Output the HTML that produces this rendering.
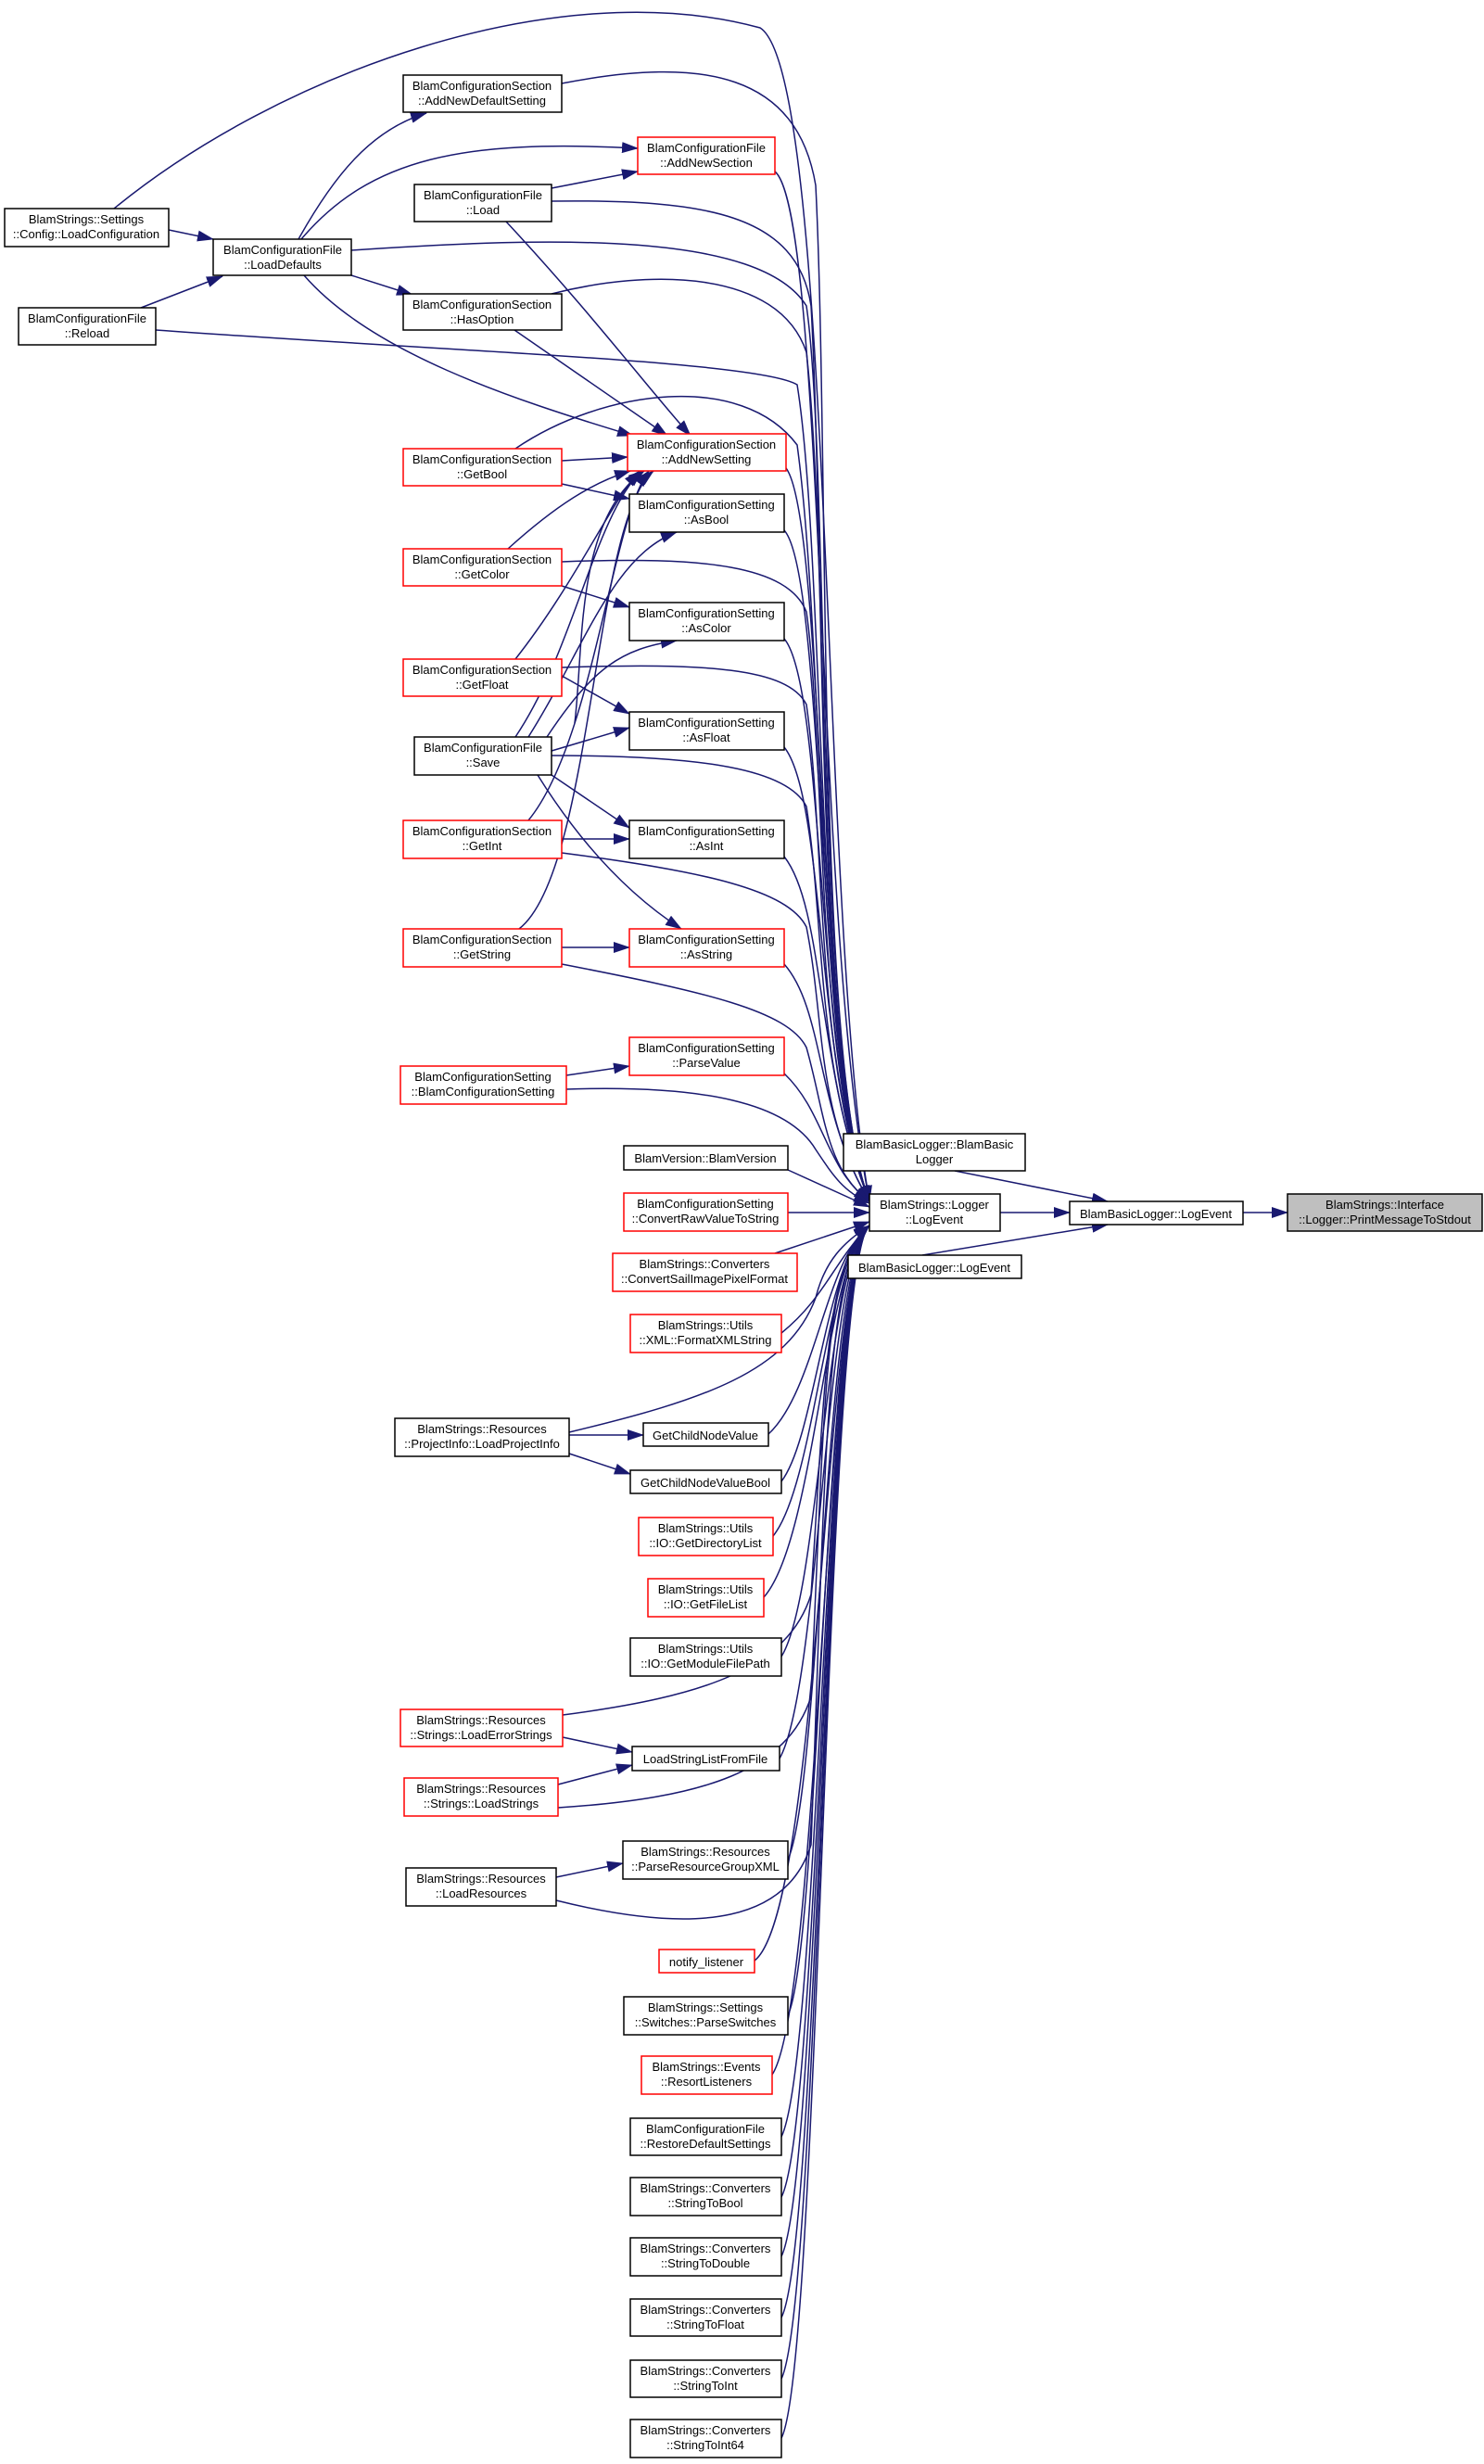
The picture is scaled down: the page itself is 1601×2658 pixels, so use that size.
<!DOCTYPE html>
<html><head><meta charset="utf-8"><style>
html,body{margin:0;padding:0;background:#fff;}
svg{display:block;}
text{font-family:"Liberation Sans",Arial,sans-serif;font-size:13px;fill:#000;}
.n{fill:#fff;stroke:#000;stroke-width:1.5;}
.r{fill:#fff;stroke:#ff0000;stroke-width:1.5;}
.g{fill:#bfbfbf;stroke:#000;stroke-width:1.5;}
.e{fill:none;stroke:#191970;stroke-width:1.5;marker-end:url(#a);}
</style></head><body>
<svg width="1601" height="2658" viewBox="0 0 1601 2658" xmlns="http://www.w3.org/2000/svg">
<defs><marker id="a" markerUnits="userSpaceOnUse" markerWidth="18" markerHeight="12" viewBox="0 0 18 12" refX="17" refY="6" orient="auto"><path d="M0,0 L18,6 L0,12 z" fill="#191970"/></marker></defs>

<g class="e">
<path d="M123,225 C300,80 600,-30 820,30 C900,80 885,1000 938,1296"/>
<path d="M606,90 C760,60 860,80 880,200 C895,500 880,1150 938,1296"/>
<path d="M836,185 C890,230 880,1000 938,1296"/>
<path d="M595,217 C760,215 860,230 875,330 C890,600 880,1150 938,1296"/>
<path d="M379,270 C600,255 820,250 870,330 C895,500 880,1150 938,1296"/>
<path d="M595,317 C700,290 840,290 870,380 C895,600 880,1150 938,1296"/>
<path d="M168,356 C500,380 820,390 860,415 C890,600 880,1150 938,1296"/>
<path d="M556,484 C650,420 800,400 860,480 C890,700 880,1150 938,1296"/>
<path d="M848,505 C890,560 880,1150 938,1296"/>
<path d="M846,572 C890,620 880,1150 938,1296"/>
<path d="M606,606 C760,600 850,610 870,660 C890,800 880,1150 938,1296"/>
<path d="M846,689 C890,740 880,1150 938,1296"/>
<path d="M606,720 C760,715 850,720 870,760 C890,900 880,1150 938,1296"/>
<path d="M846,806 C890,860 880,1150 938,1296"/>
<path d="M595,815 C760,815 850,830 870,870 C890,1000 880,1150 938,1296"/>
<path d="M846,924 C890,980 880,1150 938,1296"/>
<path d="M606,920 C760,940 850,960 870,1000 C890,1100 880,1200 938,1296"/>
<path d="M846,1040 C890,1090 880,1200 938,1296"/>
<path d="M606,1040 C760,1070 850,1090 870,1130 C890,1200 890,1260 938,1296"/>
<path d="M846,1158 C890,1200 890,1260 938,1296"/>
<path d="M611,1175 C760,1170 850,1190 880,1240 C900,1270 910,1285 938,1298"/>
<path d="M850,1262 L938,1302"/>
<path d="M850,1308 L938,1308"/>
</g>
<g class="e">
<path d="M836,1352 L938,1318"/>
<path d="M843,1438 C890,1400 900,1360 938,1322"/>
<path d="M614,1545 C760,1510 850,1480 880,1400 C890,1360 910,1340 938,1322"/>
<path d="M829,1547 C880,1500 890,1360 938,1322"/>
<path d="M843,1598 C880,1550 890,1360 938,1322"/>
<path d="M834,1657 C880,1600 890,1360 938,1322"/>
<path d="M824,1723 C880,1660 890,1360 938,1322"/>
<path d="M843,1787 C885,1720 890,1360 938,1322"/>
<path d="M607,1850 C760,1830 850,1800 875,1720 C890,1500 890,1360 938,1322"/>
<path d="M841,1897 C885,1820 890,1360 938,1322"/>
<path d="M602,1950 C760,1940 850,1910 875,1830 C890,1500 890,1360 938,1322"/>
<path d="M850,2006 C885,1930 890,1360 938,1322"/>
<path d="M600,2050 C760,2090 850,2070 875,1990 C890,1600 890,1360 938,1322"/>
<path d="M814,2115 C885,2060 890,1360 938,1322"/>
<path d="M850,2174 C885,2100 890,1360 938,1322"/>
<path d="M833,2238 C885,2160 890,1360 938,1322"/>
<path d="M843,2305 C885,2220 890,1360 938,1322"/>
<path d="M843,2370 C885,2290 890,1360 938,1322"/>
<path d="M843,2434 C885,2350 890,1360 938,1322"/>
<path d="M843,2500 C885,2420 890,1360 938,1322"/>
<path d="M843,2566 C885,2480 890,1360 938,1322"/>
<path d="M843,2630 C885,2550 890,1360 938,1322"/>
</g>
<g class="e">
<path d="M182,248 L230,258"/>
<path d="M152,332 L240,298"/>
<path d="M322,258 C360,190 400,140 460,122"/>
<path d="M325,258 C400,170 500,150 688,160"/>
<path d="M595,203 L688,185"/>
<path d="M379,297 L445,318"/>
<path d="M328,297 C400,380 550,430 683,470"/>
<path d="M546,239 C640,340 700,420 745,470"/>
<path d="M555,356 L720,470"/>
<path d="M606,497 L677,493"/>
<path d="M606,522 L679,538"/>
<path d="M548,592 C600,545 640,520 680,508"/>
<path d="M606,632 L679,655"/>
<path d="M556,711 C620,630 660,540 690,508"/>
<path d="M606,729 L679,770"/>
<path d="M556,795 C620,700 640,560 692,508"/>
<path d="M570,795 C630,700 660,600 730,574"/>
<path d="M590,795 C640,720 670,700 730,691"/>
<path d="M595,810 L679,785"/>
<path d="M620,780 C630,700 620,560 695,508"/>
<path d="M595,836 L679,893"/>
<path d="M580,836 C620,900 670,960 735,1002"/>
<path d="M606,905 L679,905"/>
<path d="M570,885 C640,800 660,560 700,508"/>
<path d="M606,1022 L679,1022"/>
<path d="M560,1002 C640,940 640,560 705,508"/>
<path d="M611,1160 L679,1150"/>
<path d="M614,1548 L694,1548"/>
<path d="M614,1568 L680,1590"/>
<path d="M607,1874 L682,1890"/>
<path d="M602,1925 L682,1904"/>
<path d="M600,2025 L672,2010"/>
<path d="M1079,1308 L1154,1308"/>
<path d="M1030,1263 L1195,1296"/>
<path d="M995,1354 L1195,1321"/>
<path d="M1341,1308 L1389,1308"/>
</g>

<g text-anchor="middle">
<rect class="n" x="5" y="225" width="177" height="41"/><text x="93" y="241">BlamStrings::Settings</text><text x="93" y="257">::Config::LoadConfiguration</text>
<rect class="n" x="20" y="332" width="148" height="40"/><text x="94" y="348">BlamConfigurationFile</text><text x="94" y="364">::Reload</text>
<rect class="n" x="230" y="258" width="149" height="39"/><text x="305" y="274">BlamConfigurationFile</text><text x="305" y="290">::LoadDefaults</text>
<rect class="n" x="435" y="81" width="171" height="40"/><text x="520" y="97">BlamConfigurationSection</text><text x="520" y="113">::AddNewDefaultSetting</text>
<rect class="r" x="688" y="148" width="148" height="40"/><text x="762" y="164">BlamConfigurationFile</text><text x="762" y="180">::AddNewSection</text>
<rect class="n" x="447" y="199" width="148" height="40"/><text x="521" y="215">BlamConfigurationFile</text><text x="521" y="231">::Load</text>
<rect class="n" x="435" y="317" width="171" height="39"/><text x="520" y="333">BlamConfigurationSection</text><text x="520" y="349">::HasOption</text>
<rect class="r" x="677" y="468" width="171" height="40"/><text x="762" y="484">BlamConfigurationSection</text><text x="762" y="500">::AddNewSetting</text>
<rect class="r" x="435" y="484" width="171" height="40"/><text x="520" y="500">BlamConfigurationSection</text><text x="520" y="516">::GetBool</text>
<rect class="n" x="679" y="533" width="167" height="41"/><text x="762" y="549">BlamConfigurationSetting</text><text x="762" y="565">::AsBool</text>
<rect class="r" x="435" y="592" width="171" height="40"/><text x="520" y="608">BlamConfigurationSection</text><text x="520" y="624">::GetColor</text>
<rect class="n" x="679" y="650" width="167" height="41"/><text x="762" y="666">BlamConfigurationSetting</text><text x="762" y="682">::AsColor</text>
<rect class="r" x="435" y="711" width="171" height="40"/><text x="520" y="727">BlamConfigurationSection</text><text x="520" y="743">::GetFloat</text>
<rect class="n" x="679" y="768" width="167" height="41"/><text x="762" y="784">BlamConfigurationSetting</text><text x="762" y="800">::AsFloat</text>
<rect class="n" x="447" y="795" width="148" height="41"/><text x="521" y="811">BlamConfigurationFile</text><text x="521" y="827">::Save</text>
<rect class="r" x="435" y="885" width="171" height="41"/><text x="520" y="901">BlamConfigurationSection</text><text x="520" y="917">::GetInt</text>
<rect class="n" x="679" y="885" width="167" height="41"/><text x="762" y="901">BlamConfigurationSetting</text><text x="762" y="917">::AsInt</text>
<rect class="r" x="435" y="1002" width="171" height="41"/><text x="520" y="1018">BlamConfigurationSection</text><text x="520" y="1034">::GetString</text>
<rect class="r" x="679" y="1002" width="167" height="41"/><text x="762" y="1018">BlamConfigurationSetting</text><text x="762" y="1034">::AsString</text>
<rect class="r" x="679" y="1119" width="167" height="41"/><text x="762" y="1135">BlamConfigurationSetting</text><text x="762" y="1151">::ParseValue</text>
<rect class="r" x="432" y="1150" width="179" height="41"/><text x="521" y="1166">BlamConfigurationSetting</text><text x="521" y="1182">::BlamConfigurationSetting</text>
<rect class="n" x="673" y="1236" width="177" height="26"/><text x="761" y="1254">BlamVersion::BlamVersion</text>
<rect class="r" x="673" y="1287" width="177" height="41"/><text x="761" y="1303">BlamConfigurationSetting</text><text x="761" y="1319">::ConvertRawValueToString</text>
<rect class="r" x="661" y="1352" width="199" height="41"/><text x="760" y="1368">BlamStrings::Converters</text><text x="760" y="1384">::ConvertSailImagePixelFormat</text>
<rect class="r" x="680" y="1418" width="163" height="41"/><text x="761" y="1434">BlamStrings::Utils</text><text x="761" y="1450">::XML::FormatXMLString</text>
<rect class="n" x="426" y="1530" width="188" height="41"/><text x="520" y="1546">BlamStrings::Resources</text><text x="520" y="1562">::ProjectInfo::LoadProjectInfo</text>
<rect class="n" x="694" y="1535" width="135" height="25"/><text x="761" y="1553">GetChildNodeValue</text>
<rect class="n" x="680" y="1586" width="163" height="25"/><text x="761" y="1604">GetChildNodeValueBool</text>
<rect class="r" x="689" y="1637" width="145" height="41"/><text x="761" y="1653">BlamStrings::Utils</text><text x="761" y="1669">::IO::GetDirectoryList</text>
<rect class="r" x="699" y="1703" width="125" height="41"/><text x="761" y="1719">BlamStrings::Utils</text><text x="761" y="1735">::IO::GetFileList</text>
<rect class="n" x="680" y="1767" width="163" height="41"/><text x="761" y="1783">BlamStrings::Utils</text><text x="761" y="1799">::IO::GetModuleFilePath</text>
<rect class="r" x="432" y="1844" width="175" height="40"/><text x="519" y="1860">BlamStrings::Resources</text><text x="519" y="1876">::Strings::LoadErrorStrings</text>
<rect class="n" x="682" y="1884" width="159" height="26"/><text x="761" y="1902">LoadStringListFromFile</text>
<rect class="r" x="436" y="1918" width="166" height="41"/><text x="519" y="1934">BlamStrings::Resources</text><text x="519" y="1950">::Strings::LoadStrings</text>
<rect class="n" x="672" y="1986" width="178" height="41"/><text x="761" y="2002">BlamStrings::Resources</text><text x="761" y="2018">::ParseResourceGroupXML</text>
<rect class="n" x="438" y="2015" width="162" height="41"/><text x="519" y="2031">BlamStrings::Resources</text><text x="519" y="2047">::LoadResources</text>
<rect class="r" x="711" y="2103" width="103" height="25"/><text x="762" y="2121">notify_listener</text>
<rect class="n" x="673" y="2154" width="177" height="41"/><text x="761" y="2170">BlamStrings::Settings</text><text x="761" y="2186">::Switches::ParseSwitches</text>
<rect class="r" x="692" y="2218" width="141" height="41"/><text x="762" y="2234">BlamStrings::Events</text><text x="762" y="2250">::ResortListeners</text>
<rect class="n" x="680" y="2285" width="163" height="40"/><text x="761" y="2301">BlamConfigurationFile</text><text x="761" y="2317">::RestoreDefaultSettings</text>
<rect class="n" x="680" y="2349" width="163" height="41"/><text x="761" y="2365">BlamStrings::Converters</text><text x="761" y="2381">::StringToBool</text>
<rect class="n" x="680" y="2414" width="163" height="41"/><text x="761" y="2430">BlamStrings::Converters</text><text x="761" y="2446">::StringToDouble</text>
<rect class="n" x="680" y="2480" width="163" height="40"/><text x="761" y="2496">BlamStrings::Converters</text><text x="761" y="2512">::StringToFloat</text>
<rect class="n" x="680" y="2546" width="163" height="40"/><text x="761" y="2562">BlamStrings::Converters</text><text x="761" y="2578">::StringToInt</text>
<rect class="n" x="680" y="2610" width="163" height="41"/><text x="761" y="2626">BlamStrings::Converters</text><text x="761" y="2642">::StringToInt64</text>
<rect class="n" x="910" y="1223" width="196" height="40"/><text x="1008" y="1239">BlamBasicLogger::BlamBasic</text><text x="1008" y="1255">Logger</text>
<rect class="n" x="938" y="1288" width="141" height="40"/><text x="1008" y="1304">BlamStrings::Logger</text><text x="1008" y="1320">::LogEvent</text>
<rect class="n" x="1154" y="1296" width="187" height="25"/><text x="1247" y="1314">BlamBasicLogger::LogEvent</text>
<rect class="n" x="915" y="1354" width="187" height="25"/><text x="1008" y="1372">BlamBasicLogger::LogEvent</text>
<rect class="g" x="1389" y="1288" width="210" height="40"/><text x="1494" y="1304">BlamStrings::Interface</text><text x="1494" y="1320">::Logger::PrintMessageToStdout</text>
</g>
</svg>
</body></html>
